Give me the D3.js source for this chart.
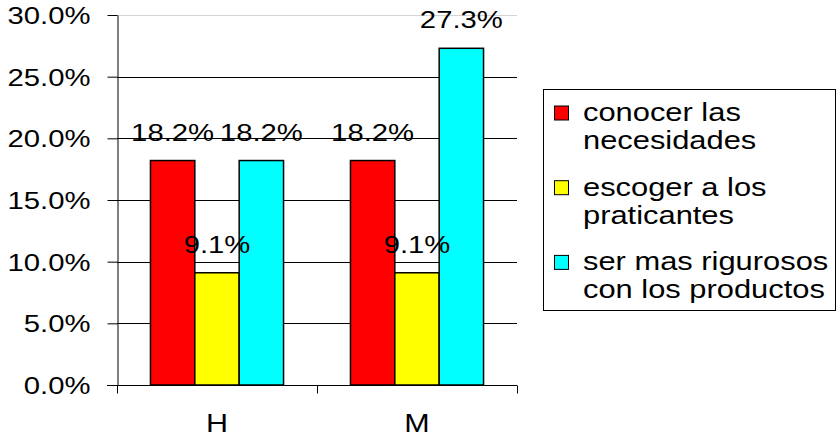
<!DOCTYPE html>
<html>
<head>
<meta charset="utf-8">
<script src="https://cdn.jsdelivr.net/npm/d3@7"></script>
<style>
  html, body { margin: 0; padding: 0; background: #fff; }
  svg { display: block; font-family: "Liberation Sans", Arial, Helvetica, sans-serif; }
</style>
</head>
<body>
<svg id="chart" width="838" height="438"></svg>
<script>
// ---- data ----
const categories = ["H", "M"];
const seriesNames = ["conocer las necesidades", "escoger a los praticantes", "ser mas rigurosos con los productos"];
const legendLines = [["conocer las", "necesidades"], ["escoger a los", "praticantes"], ["ser mas rigurosos", "con los productos"]];
const seriesColors = ["#ff0000", "#ffff00", "#00ffff"];
const valuesConocer = [0.182, 0.182];
const valuesEscoger = [0.091, 0.091];
const valuesRigurosos = [0.182, 0.273];
const yTicks = [0, 0.05, 0.10, 0.15, 0.20, 0.25, 0.30];

const seriesValues = [valuesConocer, valuesEscoger, valuesRigurosos];

const svg = d3.select("#chart");
const SX = 1.22;      // horizontal stretch of text as in reference
const FS = 24;

const plot = { left: 117, right: 517, top: 15, bottom: 385 };

const y = d3.scaleLinear().domain([0, 0.30]).range([plot.bottom, plot.top]);
const x0 = d3.scaleBand().domain(categories).range([plot.left, plot.right]).padding(0);
const x1 = d3.scaleBand().domain(d3.range(seriesNames.length)).range([0, x0.bandwidth()])
  .paddingInner(0).paddingOuter(0.754);

function stretchedText(parent, x, yy, txt, anchor, fs, sx) {
  const g = parent.append("g").attr("transform", `translate(${x},${yy}) scale(${sx},1)`);
  g.append("text").attr("x", 0).attr("y", 0).attr("text-anchor", anchor)
    .attr("font-size", fs).attr("fill", "#000").text(txt);
  return g;
}

// gridlines
svg.append("g").selectAll("line").data(yTicks.filter(d => d > 0)).join("line")
  .attr("x1", plot.left).attr("x2", plot.right)
  .attr("y1", d => Math.round(y(d)) + 0.5).attr("y2", d => Math.round(y(d)) + 0.5)
  .attr("stroke", d => d >= 0.3 ? "#d4d4d4" : "#000").attr("stroke-width", 1);

// bars
const barG = svg.append("g");
categories.forEach((c, ci) => {
  seriesValues.forEach((vals, si) => {
    barG.append("rect")
      .attr("x", x0(c) + x1(si))
      .attr("y", y(vals[ci]))
      .attr("width", x1.bandwidth())
      .attr("height", y(0) - y(vals[ci]))
      .attr("fill", seriesColors[si])
      .attr("stroke", "#000").attr("stroke-width", 1.5);
  });
});

// y axis
const yAxis = svg.append("g").attr("transform", `translate(${plot.left + 0.5},0)`)
  .call(d3.axisLeft(y).tickValues(yTicks).tickFormat(d3.format(".1%")).tickSize(10).tickSizeOuter(0));
yAxis.select(".domain").attr("stroke", "#000");
yAxis.selectAll(".tick line").attr("stroke", "#000");
yAxis.selectAll(".tick text")
  .attr("x", 0).attr("dy", "0.36em")
  .attr("transform", `translate(-27,0) scale(${SX},1)`)
  .attr("font-size", FS).attr("fill", "#000").attr("font-family", null);

// x axis
const xAxis = svg.append("g").attr("transform", `translate(0,${plot.bottom + 0.5})`)
  .call(d3.axisBottom(x0).tickSize(0).tickSizeOuter(0));
xAxis.select(".domain").attr("stroke", "#000").attr("d", `M${plot.left - 10},0H${plot.right}`);
xAxis.selectAll(".tick text")
  .attr("y", 0).attr("dy", null)
  .attr("transform", `translate(0,46) scale(${SX},1)`)
  .attr("font-size", FS + 1).attr("fill", "#000").attr("font-family", null);
const bounds = categories.map(c => x0(c)).concat([x0.range()[1]]);
xAxis.append("g").selectAll("line").data(bounds).join("line")
  .attr("x1", d => Math.round(d) + 0.5).attr("x2", d => Math.round(d) + 0.5)
  .attr("y1", 0).attr("y2", 8).attr("stroke", "#000");

// data labels
const labG = svg.append("g");
categories.forEach((c, ci) => {
  seriesValues.forEach((vals, si) => {
    const cx = x0(c) + x1(si) + x1.bandwidth() / 2;
    stretchedText(labG, cx, y(vals[ci]) - 20, d3.format(".1%")(vals[ci]), "middle", FS, SX);
  });
});

// legend
const lg = svg.append("g");
lg.append("rect").attr("x", 543.5).attr("y", 89.5).attr("width", 292).attr("height", 221)
  .attr("fill", "#fff").attr("stroke", "#000").attr("stroke-width", 1);
legendLines.forEach((lines, i) => {
  const base = 121 + i * 74.7;
  lg.append("rect").attr("x", 554.5).attr("y", base - 15).attr("width", 14).attr("height", 14)
    .attr("fill", seriesColors[i]).attr("stroke", "#000").attr("stroke-width", 1);
  lines.forEach((t, li) => {
    stretchedText(lg, 583, base + li * 28, t, "start", 25, 1.235);
  });
});
</script>
</body>
</html>
